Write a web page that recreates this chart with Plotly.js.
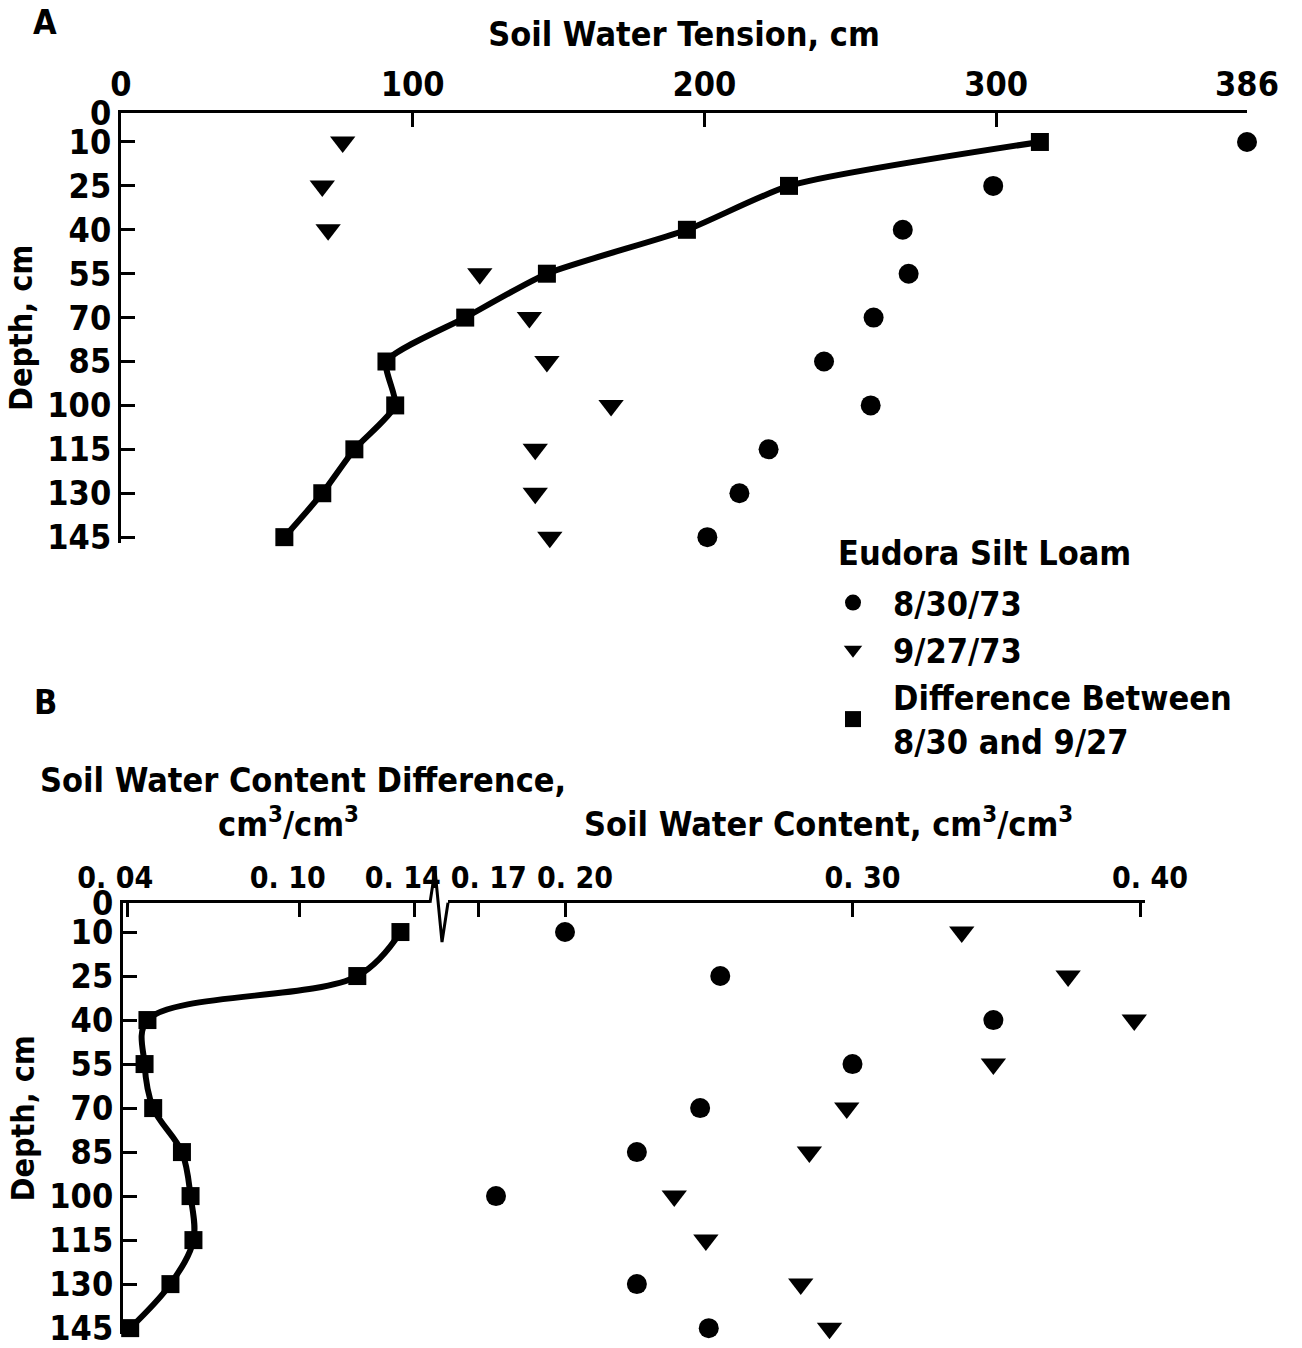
<!DOCTYPE html>
<html>
<head>
<meta charset="utf-8">
<script src="https://cdn.plot.ly/plotly-3.0.1.min.js"></script>
<style>html,body{margin:0;padding:0;background:#fff;}#chart{width:1302px;height:1348px;}</style>
</head>
<body>
<div id="chart"></div>
<script>
// ---- data ----
const depth = [10, 25, 40, 55, 70, 85, 100, 115, 130, 145];
const depthTicks = [0, 10, 25, 40, 55, 70, 85, 100, 115, 130, 145];

// Panel A: soil water tension, cm
const tensionAug30 = [386, 299, 268, 270, 258, 241, 257, 222, 212, 201];
const tensionSep27 = [76, 69, 71, 123, 140, 146, 168, 142, 142, 147];
const tensionDiff  = [315, 229, 194, 146, 118, 91, 94, 80, 69, 56];
const tensionTicks = [0, 100, 200, 300, 386];

// Panel B: soil water content, cm3/cm3
const contentAug30 = [0.200, 0.254, 0.349, 0.300, 0.247, 0.225, 0.176, null, 0.225, 0.250];
const contentSep27 = [0.338, 0.375, 0.398, 0.349, 0.298, 0.285, 0.238, 0.249, 0.282, 0.292];
const contentDiff  = [0.135, 0.120, 0.047, 0.046, 0.049, 0.059, 0.062, 0.063, 0.055, 0.041];
const diffTicks = [0.04, 0.10, 0.14];
const diffTickText = ['0. 04', '0. 10', '0. 14'];
const contentTicks = [0.17, 0.20, 0.30, 0.40];
const contentTickText = ['0. 17', '0. 20', '0. 30', '0. 40'];

const legendTitle = 'Eudora Silt Loam';
const legendNames = ['8/30/73', '9/27/73', 'Difference Between<br>8/30 and 9/27'];

// ---- helpers (pixel -> paper) ----
const W = 1302, H = 1348;
const px = v => v / W;
const py = v => 1 - v / H;

const FONT = 'DejaVu Sans Condensed, Liberation Sans Narrow, Liberation Sans, sans-serif';
const tickFont = {family: FONT, size: 34, color: '#000', weight: 'bold'};
const tickFontB = {family: FONT, size: 30, color: '#000', weight: 'bold'};
const titleFont = {family: FONT, size: 34, color: '#000', weight: 'bold'};
const yTitleFont = {family: FONT, size: 32, color: '#000', weight: 'bold'};

const baseAxis = {
  showgrid: false, zeroline: false, showline: true, linecolor: '#000', linewidth: 3,
  ticks: 'inside', ticklen: 14, tickwidth: 3, tickcolor: '#000', tickangle: 0,
  ticklabeloverflow: 'allow',
  tickfont: tickFont, automargin: false, fixedrange: true
};

const mk = (sym, size) => ({symbol: sym, size: size, color: '#000', line: {width: 0}});

const traces = [
  // Panel A
  {x: tensionAug30, y: depth, xaxis: 'x', yaxis: 'y', mode: 'markers', name: legendNames[0],
   marker: mk('circle', 20), cliponaxis: false},
  {x: tensionSep27, y: depth, xaxis: 'x', yaxis: 'y', mode: 'markers', name: legendNames[1],
   marker: mk('triangle-down', 22), cliponaxis: false},
  {x: tensionDiff, y: depth, xaxis: 'x', yaxis: 'y', mode: 'lines', showlegend: false,
   line: {color: '#000', width: 6, shape: 'spline', smoothing: 0.6}, cliponaxis: false},
  {x: tensionDiff, y: depth, xaxis: 'x', yaxis: 'y', mode: 'markers', name: legendNames[2],
   marker: mk('square', 18), cliponaxis: false},
  // Panel B
  {x: contentAug30, y: depth, xaxis: 'x3', yaxis: 'y2', mode: 'markers', showlegend: false,
   marker: mk('circle', 20), cliponaxis: false},
  {x: contentSep27, y: depth, xaxis: 'x3', yaxis: 'y2', mode: 'markers', showlegend: false,
   marker: mk('triangle-down', 22), cliponaxis: false},
  {x: contentDiff, y: depth, xaxis: 'x2', yaxis: 'y2', mode: 'lines', showlegend: false,
   line: {color: '#000', width: 6, shape: 'spline', smoothing: 1}, cliponaxis: false},
  {x: contentDiff, y: depth, xaxis: 'x2', yaxis: 'y2', mode: 'markers', showlegend: false,
   marker: mk('square', 18), cliponaxis: false}
];

const layout = {
  width: W, height: H, autosize: false,
  margin: {l: 0, r: 0, t: 0, b: 0, pad: 0},
  paper_bgcolor: '#fff', plot_bgcolor: 'rgba(0,0,0,0)',
  font: {family: FONT, color: '#000'},
  showlegend: true,
  legend: {
    x: px(813), y: py(574), xanchor: 'left', yanchor: 'top',
    bgcolor: 'rgba(0,0,0,0)', borderwidth: 0, itemwidth: 70,
    font: {family: FONT, size: 34, color: '#000', weight: 'bold'},
    traceorder: 'normal', itemclick: false, itemdoubleclick: false
  },
  // Panel A axes
  xaxis: Object.assign({}, baseAxis, {
    domain: [px(121), px(1247)], range: [0, 386], anchor: 'y', side: 'top',
    tickmode: 'array', tickvals: tensionTicks, ticktext: tensionTicks.map(String),
    title: {text: 'Soil Water Tension, cm', font: titleFont, standoff: 8}
  }),
  yaxis: Object.assign({}, baseAxis, {
    domain: [py(543), py(112.7)], range: [147, 0], anchor: 'x', side: 'left',
    tickmode: 'array', tickvals: depthTicks, ticktext: depthTicks.map(String),
    title: {text: 'Depth, cm', font: yTitleFont, standoff: 6}
  }),
  // Panel B axes
  xaxis2: Object.assign({}, baseAxis, {
    domain: [px(123), px(430)], range: [0.0385, 0.0385 + 307 / 2875], anchor: 'y2', side: 'top',
    tickmode: 'array', tickvals: diffTicks, ticktext: diffTickText,
    tickfont: tickFontB, ticklabelshift: -12
  }),
  xaxis3: Object.assign({}, baseAxis, {
    domain: [px(448), px(1145)], range: [0.20 - 117 / 2875, 0.40 + 5 / 2875], anchor: 'y2', side: 'top',
    tickmode: 'array', tickvals: contentTicks, ticktext: contentTickText,
    tickfont: tickFontB, ticklabelshift: 10
  }),
  yaxis2: Object.assign({}, baseAxis, {
    domain: [py(1334), py(902.7)], range: [147, 0], anchor: 'x2', side: 'left',
    tickmode: 'array', tickvals: depthTicks, ticktext: depthTicks.map(String),
    title: {text: 'Depth, cm', font: yTitleFont, standoff: 6}
  }),
  annotations: [
    {text: 'A', x: px(45), y: py(22), xref: 'paper', yref: 'paper', xanchor: 'center', yanchor: 'middle',
     showarrow: false, font: {family: FONT, size: 34, color: '#000', weight: 'bold'}},
    {text: 'B', x: px(45), y: py(702), xref: 'paper', yref: 'paper', xanchor: 'center', yanchor: 'middle',
     showarrow: false, font: {family: FONT, size: 34, color: '#000', weight: 'bold'}},
    {text: legendTitle, x: px(836), y: py(553), xref: 'paper', yref: 'paper', xanchor: 'left', yanchor: 'middle',
     showarrow: false, font: titleFont},
    {text: 'Soil Water Content Difference,', x: px(38), y: py(780), xref: 'paper', yref: 'paper',
     xanchor: 'left', yanchor: 'middle', showarrow: false, font: titleFont},
    {text: 'cm<sup>3</sup>/cm<sup>3</sup>', x: px(288), y: py(822), xref: 'paper', yref: 'paper',
     xanchor: 'center', yanchor: 'middle', showarrow: false, font: titleFont},
    {text: 'Soil Water Content, cm<sup>3</sup>/cm<sup>3</sup>', x: px(828), y: py(822), xref: 'paper', yref: 'paper',
     xanchor: 'center', yanchor: 'middle', showarrow: false, font: titleFont}
  ],
  shapes: [
    {type: 'path', xref: 'paper', yref: 'paper',
     path: 'M ' + px(430) + ' ' + py(902.7) + ' L ' + px(435) + ' ' + py(870) + ' L ' + px(442) + ' ' + py(942) +
           ' L ' + px(448) + ' ' + py(902.7),
     line: {color: '#000', width: 3}}
  ]
};

Plotly.newPlot('chart', traces, layout, {displayModeBar: false, staticPlot: true});
</script>
</body>
</html>
